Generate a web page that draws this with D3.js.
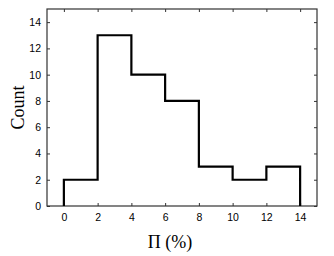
<!DOCTYPE html>
<html>
<head>
<meta charset="utf-8">
<script src="https://cdn.jsdelivr.net/npm/d3@7"></script>
<style>
  body { margin: 0; background: #fff; }
  .tick text { font-family: "Liberation Sans", Arial, sans-serif; font-size: 10.5px; fill: #000; }
</style>
</head>
<body>
<svg id="chart" width="334" height="256"></svg>
<script>
// histogram bins (left edges) and counts
var binEdges = [0, 2, 4, 6, 8, 10, 12, 14];
var counts = [2, 13, 10, 8, 3, 2, 3];
var xTicks = [0, 2, 4, 6, 8, 10, 12, 14];
var yTicks = [0, 2, 4, 6, 8, 10, 12, 14];

var svg = d3.select('#chart');
var boxL = 47, boxR = 317, boxT = 9, boxB = 206;

var x = d3.scaleLinear().domain([-1, 15]).range([boxL, boxR]);
var y = d3.scaleLinear().domain([0, 15]).range([boxB, boxT]);

// axes, ticks pointing inwards
svg.append('g')
  .attr('transform', 'translate(0,' + boxB + ')')
  .call(d3.axisBottom(x).tickValues(xTicks).tickSize(-3).tickPadding(8));
svg.append('g')
  .attr('transform', 'translate(0,' + boxT + ')')
  .call(d3.axisTop(x).tickValues(xTicks).tickSize(-3).tickFormat(''));
svg.append('g')
  .attr('transform', 'translate(' + boxL + ',0)')
  .call(d3.axisLeft(y).tickValues(yTicks).tickSize(-3).tickPadding(6));
svg.append('g')
  .attr('transform', 'translate(' + boxR + ',0)')
  .call(d3.axisRight(y).tickValues(yTicks).tickSize(-3).tickFormat(''));

svg.selectAll('.domain').remove();
svg.selectAll('.tick line').attr('stroke', '#333');

svg.append('rect')
  .attr('x', boxL).attr('y', boxT)
  .attr('width', boxR - boxL).attr('height', boxB - boxT)
  .attr('fill', 'none').attr('stroke', '#333').attr('stroke-width', 1.2);

// step outline
var pts = [[binEdges[0], 0]];
counts.forEach(function(c, i){
  pts.push([binEdges[i], c]);
  pts.push([binEdges[i + 1], c]);
});
pts.push([binEdges[binEdges.length - 1], 0]);

svg.append('path')
  .attr('d', d3.line().x(function(d){ return x(d[0]); }).y(function(d){ return y(d[1]); })(pts))
  .attr('fill', 'none')
  .attr('stroke', '#000')
  .attr('stroke-width', 2.2);

// labels
svg.append('text')
  .attr('transform', 'translate(24,' + ((boxT + boxB) / 2) + ') rotate(-90)')
  .attr('text-anchor', 'middle')
  .attr('font-family', '"Liberation Serif", "Times New Roman", serif')
  .attr('font-size', 18)
  .text('Count');

svg.append('text')
  .attr('x', 170).attr('y', 248)
  .attr('text-anchor', 'middle')
  .attr('font-family', '"Liberation Serif", "Times New Roman", serif')
  .attr('font-size', 18)
  .text('Π (%)');
</script>
</body>
</html>
